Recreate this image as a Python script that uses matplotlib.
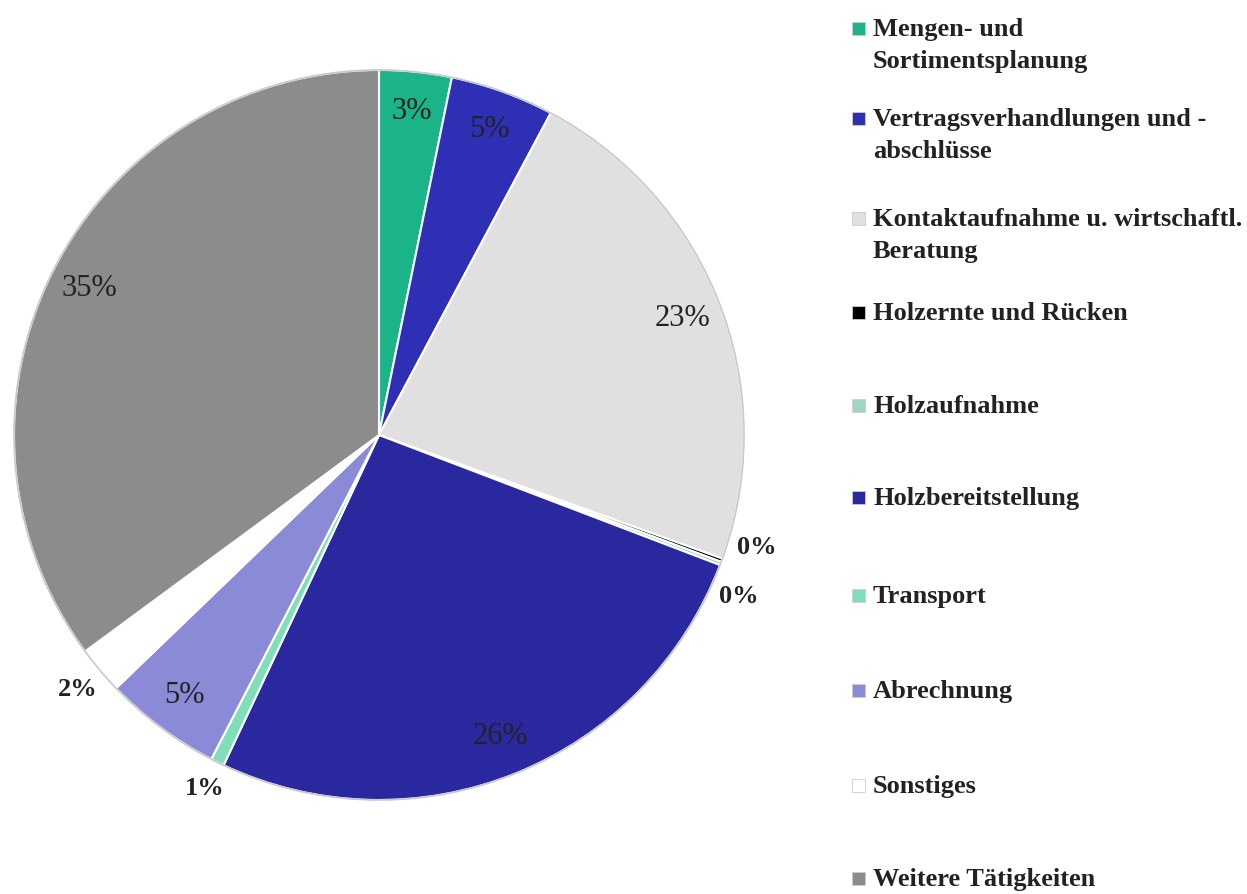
import numpy as np
import matplotlib.pyplot as plt
from matplotlib.patches import Rectangle

# Anteile der Tätigkeiten (%), im Uhrzeigersinn ab 12 Uhr
labels = [
    "Mengen- und\nSortimentsplanung",
    "Vertragsverhandlungen und -\nabschlüsse",
    "Kontaktaufnahme u. wirtschaftl.\nBeratung",
    "Holzernte und Rücken",
    "Holzaufnahme",
    "Holzbereitstellung",
    "Transport",
    "Abrechnung",
    "Sonstiges",
    "Weitere Tätigkeiten",
]
values = [3.2, 4.6, 22.7, 0.15, 0.15, 26.2, 0.6, 5.2, 2.1, 35.1]
colors = ["#1bb388", "#2f2fb5", "#e0e0e0", "#000000", "#9fd6c2",
          "#2a289e", "#80deb9", "#8a8ad6", "#ffffff", "#8c8c8c"]

serif = ["Liberation Serif", "DejaVu Serif"]

fig = plt.figure(figsize=(12.47, 8.94), dpi=100)

# pie centre (379, 435) px, radius 365 px
W, H = 1247, 894
cx, cy, r = 379, 435, 365
ax = fig.add_axes([(cx - r) / W, (H - cy - r) / H, 2 * r / W, 2 * r / H])

wedges, _ = ax.pie(values, colors=colors, startangle=90, counterclock=False,
                   wedgeprops=dict(edgecolor="white", linewidth=1.5))
ax.set_xlim(-1, 1)
ax.set_ylim(-1, 1)
ax.set_aspect("equal")

# outer rim
circle = plt.Circle((0, 0), 1.0, fill=False, edgecolor="#c8c8c8",
                    linewidth=1.2, clip_on=False)
ax.add_patch(circle)

total = sum(values)
nudge = {3: 3.5, 4: -3.5}
for i, (w, v) in enumerate(zip(wedges, values)):
    pct = v / total * 100
    mid = np.deg2rad((w.theta1 + w.theta2) / 2)
    txt = f"{pct:.0f}%"
    if pct >= 3:
        rr = 0.89
        ax.text(rr * np.cos(mid), rr * np.sin(mid), txt, ha="center", va="center",
                fontsize=22, family=serif, color="#222222")
    else:
        ang = mid + np.deg2rad(nudge.get(i, 0))
        rr = 1.08
        ax.text(rr * np.cos(ang), rr * np.sin(ang), txt, ha="center", va="center",
                fontsize=19, family=serif, fontweight="bold", color="#222222")

# legend
rows_y = [28, 118, 218, 312, 405, 497, 595, 690, 785, 878]
for lab, col, y in zip(labels, colors, rows_y):
    fig.patches.append(Rectangle((852 / W, 1 - (y + 7) / H), 13 / W, 13 / H,
                                 transform=fig.transFigure, facecolor=col,
                                 edgecolor="#cccccc", linewidth=0.6))
    fig.text(873 / W, 1 - (y - 10) / H, lab, ha="left", va="top", fontsize=19,
             family=serif, fontweight="bold", color="#222222", linespacing=1.5)

fig.savefig("out.png", dpi=100)
